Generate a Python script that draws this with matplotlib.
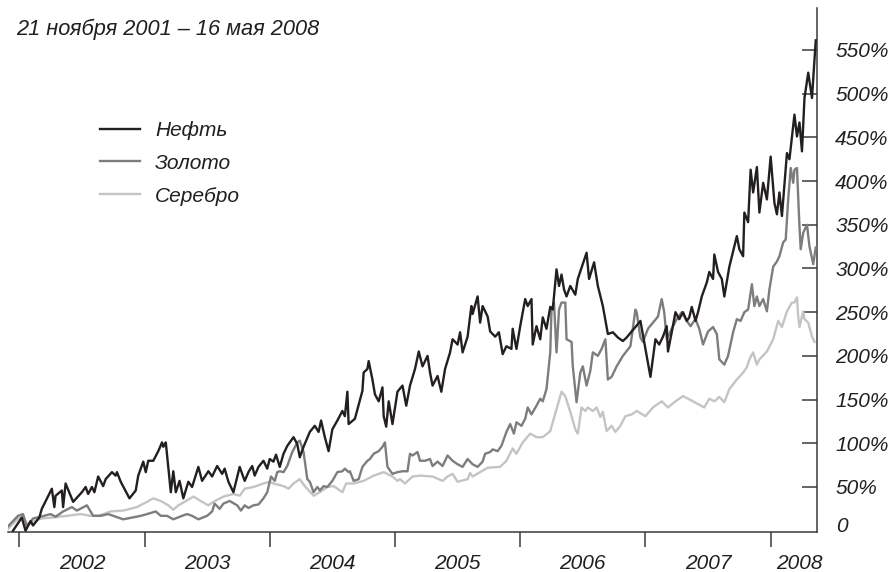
import matplotlib
matplotlib.use("Agg")
import matplotlib.pyplot as plt
import matplotlib.transforms as mtransforms

plt.rcParams["font.family"] = ["Liberation Sans", "DejaVu Sans"]
plt.rcParams["font.style"] = "italic"

# ==========================================
# DATA (decimal year, % change since 21.11.2001)
# ==========================================

oil_t = [2001.95, 2002.02, 2002.05, 2002.09, 2002.11, 2002.16, 2002.18, 2002.26, 2002.28, 2002.29,
         2002.34, 2002.35, 2002.37, 2002.43, 2002.50, 2002.53, 2002.55, 2002.58, 2002.60, 2002.63,
         2002.67, 2002.69, 2002.74, 2002.77, 2002.78, 2002.81, 2002.88, 2002.93, 2002.95, 2002.99,
         2003.01, 2003.03, 2003.07, 2003.11, 2003.14, 2003.15, 2003.17, 2003.21, 2003.23, 2003.25,
         2003.28, 2003.31, 2003.35, 2003.38, 2003.43, 2003.46, 2003.51, 2003.54, 2003.58, 2003.62,
         2003.64, 2003.67, 2003.71, 2003.76, 2003.80, 2003.83, 2003.86, 2003.88, 2003.91, 2003.95,
         2003.98, 2004.00, 2004.03, 2004.05, 2004.08, 2004.11, 2004.14, 2004.19, 2004.22, 2004.24,
         2004.27, 2004.32, 2004.36, 2004.39, 2004.41, 2004.44, 2004.47, 2004.50, 2004.54, 2004.58,
         2004.60, 2004.62, 2004.63, 2004.68, 2004.74, 2004.75, 2004.78, 2004.79, 2004.82, 2004.84,
         2004.87, 2004.90, 2004.91, 2004.93, 2004.95, 2004.98, 2005.02, 2005.06, 2005.09, 2005.12,
         2005.16, 2005.19, 2005.22, 2005.26, 2005.28, 2005.30, 2005.34, 2005.37, 2005.40, 2005.44,
         2005.46, 2005.50, 2005.52, 2005.54, 2005.58, 2005.61, 2005.62, 2005.66, 2005.68, 2005.70,
         2005.74, 2005.76, 2005.80, 2005.83, 2005.86, 2005.89, 2005.93, 2005.94, 2005.97, 2006.00,
         2006.04, 2006.06, 2006.09, 2006.10, 2006.13, 2006.16, 2006.18, 2006.21, 2006.24, 2006.26,
         2006.29, 2006.31, 2006.33, 2006.35, 2006.37, 2006.40, 2006.44, 2006.46, 2006.53, 2006.55,
         2006.59, 2006.62, 2006.66, 2006.70, 2006.74, 2006.78, 2006.82, 2006.85, 2006.89, 2006.92,
         2006.96, 2006.99, 2007.04, 2007.08, 2007.11, 2007.14, 2007.17, 2007.18, 2007.21, 2007.24,
         2007.27, 2007.30, 2007.33, 2007.35, 2007.37, 2007.40, 2007.42, 2007.45, 2007.49, 2007.51,
         2007.54, 2007.55, 2007.58, 2007.61, 2007.63, 2007.67, 2007.73, 2007.75, 2007.78, 2007.79,
         2007.82, 2007.84, 2007.86, 2007.89, 2007.91, 2007.94, 2007.97, 2008.00, 2008.03, 2008.05,
         2008.07, 2008.09, 2008.13, 2008.15, 2008.19, 2008.21, 2008.23, 2008.25, 2008.27, 2008.30,
         2008.33, 2008.36]
oil_v = [0, 15, 0, 11, 6, 15, 25, 48, 27, 40,
         46, 27, 54, 33, 44, 50, 42, 50, 44, 62,
         51, 59, 67, 63, 67, 56, 37, 46, 63, 79,
         67, 80, 80, 91, 101, 96, 101, 44, 68, 44,
         57, 37, 56, 50, 73, 57, 68, 62, 74, 65,
         71, 56, 44, 73, 57, 67, 74, 63, 73, 80,
         71, 82, 79, 87, 73, 88, 97, 107, 99, 84,
         96, 113, 120, 113, 126, 107, 91, 116, 126, 137,
         131, 159, 122, 128, 160, 181, 185, 194, 173, 156,
         148, 164, 131, 119, 148, 122, 159, 166, 143, 166,
         185, 205, 188, 200, 181, 166, 177, 159, 185, 204,
         219, 213, 227, 204, 222, 257, 248, 268, 238, 257,
         245, 228, 222, 227, 202, 211, 208, 231, 208, 234,
         265, 257, 265, 213, 234, 219, 244, 231, 256, 253,
         299, 280, 293, 276, 268, 280, 270, 288, 318, 288,
         307, 280, 257, 225, 227, 221, 217, 221, 228, 233,
         240, 216, 176, 219, 213, 222, 234, 205, 227, 250,
         242, 250, 240, 244, 256, 240, 250, 268, 284, 296,
         288, 316, 296, 288, 268, 302, 337, 322, 314, 364,
         353, 413, 387, 416, 364, 398, 379, 428, 375, 362,
         387, 360, 432, 425, 476, 451, 467, 434, 495, 524,
         495, 561]

gold_t = [2001.91, 2001.99, 2002.03, 2002.06, 2002.11, 2002.17, 2002.25, 2002.29, 2002.35, 2002.42,
          2002.46, 2002.50, 2002.54, 2002.59, 2002.65, 2002.71, 2002.77, 2002.83, 2002.90, 2002.97,
          2003.02, 2003.09, 2003.13, 2003.18, 2003.23, 2003.30, 2003.34, 2003.38, 2003.43, 2003.50,
          2003.54, 2003.56, 2003.60, 2003.63, 2003.68, 2003.74, 2003.77, 2003.80, 2003.83, 2003.87,
          2003.91, 2003.95, 2003.98, 2004.01, 2004.04, 2004.06, 2004.08, 2004.11, 2004.14, 2004.18,
          2004.22, 2004.24, 2004.27, 2004.30, 2004.32, 2004.35, 2004.38, 2004.40, 2004.43, 2004.46,
          2004.50, 2004.54, 2004.58, 2004.60, 2004.63, 2004.64, 2004.67, 2004.71, 2004.74, 2004.78,
          2004.80, 2004.83, 2004.87, 2004.90, 2004.92, 2004.94, 2004.98, 2005.02, 2005.06, 2005.10,
          2005.12, 2005.14, 2005.18, 2005.20, 2005.24, 2005.28, 2005.30, 2005.34, 2005.38, 2005.42,
          2005.46, 2005.50, 2005.54, 2005.58, 2005.62, 2005.66, 2005.70, 2005.72, 2005.76, 2005.78,
          2005.82, 2005.85, 2005.89, 2005.92, 2005.95, 2005.97, 2006.01, 2006.04, 2006.06, 2006.09,
          2006.13, 2006.16, 2006.18, 2006.21, 2006.24, 2006.25, 2006.27, 2006.29, 2006.31, 2006.33,
          2006.36, 2006.37, 2006.41, 2006.42, 2006.45, 2006.48, 2006.50, 2006.53, 2006.56, 2006.58,
          2006.62, 2006.65, 2006.68, 2006.70, 2006.73, 2006.77, 2006.82, 2006.88, 2006.92, 2006.93,
          2006.96, 2006.98, 2007.02, 2007.06, 2007.10, 2007.13, 2007.15, 2007.17, 2007.21, 2007.25,
          2007.29, 2007.33, 2007.36, 2007.40, 2007.43, 2007.46, 2007.50, 2007.54, 2007.57, 2007.59,
          2007.63, 2007.66, 2007.70, 2007.73, 2007.76, 2007.79, 2007.82, 2007.85, 2007.87, 2007.89,
          2007.91, 2007.94, 2007.97, 2007.99, 2008.02, 2008.05, 2008.07, 2008.10, 2008.12, 2008.14,
          2008.16, 2008.18, 2008.19, 2008.21, 2008.23, 2008.24, 2008.26, 2008.29, 2008.31, 2008.34,
          2008.36]
gold_v = [5, 17, 19, 5, 14, 16, 19, 16, 22, 27,
          23, 26, 29, 17, 17, 19, 16, 13, 15, 17,
          19, 22, 17, 17, 13, 17, 19, 17, 13, 17,
          22, 31, 25, 31, 34, 29, 23, 29, 26, 29,
          30, 37, 44, 62, 57, 67, 68, 67, 74, 90,
          101, 103, 90, 59, 56, 44, 50, 46, 51, 50,
          57, 67, 68, 71, 67, 68, 57, 59, 73, 80,
          82, 88, 91, 96, 101, 73, 65, 67, 68, 68,
          88, 86, 90, 80, 80, 82, 74, 79, 74, 86,
          80, 76, 73, 82, 76, 73, 79, 88, 90, 93,
          91, 97, 113, 122, 111, 124, 120, 128, 141, 133,
          143, 151, 148, 162, 204, 253, 261, 204, 253, 261,
          261, 219, 216, 188, 147, 181, 188, 166, 183, 204,
          200, 208, 219, 173, 176, 188, 200, 211, 253, 250,
          221, 216, 231, 238, 245, 265, 250, 219, 231, 242,
          250, 240, 234, 242, 231, 213, 228, 233, 225, 196,
          190, 200, 227, 242, 240, 250, 253, 282, 257, 268,
          257, 265, 251, 276, 302, 308, 314, 330, 333, 379,
          415, 398, 413, 415, 348, 322, 341, 350, 325, 305,
          324]

silver_t = [2001.91, 2001.99, 2002.03, 2002.07, 2002.11, 2002.18, 2002.26, 2002.38, 2002.49, 2002.57,
            2002.63, 2002.73, 2002.83, 2002.94, 2003.02, 2003.07, 2003.13, 2003.19, 2003.23, 2003.27,
            2003.32, 2003.39, 2003.46, 2003.51, 2003.55, 2003.63, 2003.71, 2003.76, 2003.80, 2003.87,
            2003.95, 2004.00, 2004.03, 2004.11, 2004.15, 2004.19, 2004.24, 2004.28, 2004.35, 2004.40,
            2004.46, 2004.51, 2004.58, 2004.61, 2004.67, 2004.75, 2004.83, 2004.91, 2004.98, 2005.02,
            2005.04, 2005.08, 2005.14, 2005.20, 2005.30, 2005.38, 2005.42, 2005.46, 2005.50, 2005.58,
            2005.60, 2005.62, 2005.68, 2005.74, 2005.84, 2005.89, 2005.94, 2005.97, 2006.02, 2006.08,
            2006.13, 2006.18, 2006.24, 2006.29, 2006.33, 2006.36, 2006.40, 2006.44, 2006.46, 2006.49,
            2006.52, 2006.54, 2006.58, 2006.61, 2006.64, 2006.66, 2006.69, 2006.73, 2006.76, 2006.80,
            2006.84, 2006.89, 2006.93, 2007.00, 2007.06, 2007.13, 2007.18, 2007.24, 2007.30, 2007.38,
            2007.47, 2007.51, 2007.55, 2007.59, 2007.63, 2007.67, 2007.73, 2007.75, 2007.78, 2007.81,
            2007.83, 2007.86, 2007.89, 2007.91, 2007.97, 2008.02, 2008.06, 2008.09, 2008.13, 2008.17,
            2008.19, 2008.21, 2008.22, 2008.23, 2008.26, 2008.27, 2008.30, 2008.33, 2008.35]
silver_v = [2, 14, 16, 6, 11, 14, 15, 17, 19, 17,
            17, 22, 23, 27, 33, 37, 34, 29, 24, 29,
            33, 39, 33, 29, 33, 39, 42, 40, 48, 50,
            54, 56, 54, 51, 48, 54, 59, 51, 40, 44,
            50, 51, 44, 54, 54, 57, 63, 67, 62, 57,
            59, 54, 62, 63, 62, 57, 62, 65, 56, 59,
            66, 62, 67, 72, 73, 80, 94, 88, 101, 111,
            107, 107, 114, 139, 159, 154, 136, 116, 111, 141,
            137, 141, 137, 141, 130, 136, 114, 120, 113, 120,
            131, 133, 137, 131, 141, 148, 141, 148, 154, 148,
            141, 151, 148, 153, 147, 162, 173, 176, 181, 187,
            196, 204, 190, 196, 205, 219, 240, 233, 251, 261,
            261, 267, 245, 233, 251, 242, 238, 222, 216]

series_names = ["Нефть", "Золото", "Серебро"]
years = [2002, 2003, 2004, 2005, 2006, 2007, 2008]
year_label_pos = [2002.5, 2003.5, 2004.5, 2005.5, 2006.5, 2007.5, 2008.23]
pct_ticks = [50, 100, 150, 200, 250, 300, 350, 400, 450, 500, 550]
title = "21 ноября 2001 – 16 мая 2008"

# ==========================================
# PLOT
# ==========================================

ink = "#231f20"
axis_col = "#3a3a3a"

fig = plt.figure(figsize=(8.94, 5.72), dpi=100)
ax = fig.add_axes([8 / 894, 40 / 572, 809 / 894, 524 / 572])

ax.plot(silver_t, silver_v, color="#c4c4c4", linewidth=1.7, label=series_names[2], zorder=2)
ax.plot(gold_t, gold_v, color="#7d7d7d", linewidth=1.7, label=series_names[1], zorder=3)
ax.plot(oil_t, oil_v, color=ink, linewidth=1.7, label=series_names[0], zorder=4)

ax.set_xlim(2001.91, 2008.37)
ax.set_ylim(-1.5, 598)

for side in ["top", "left"]:
    ax.spines[side].set_visible(False)
for side in ["bottom", "right"]:
    ax.spines[side].set_color(axis_col)
    ax.spines[side].set_linewidth(1.1)

# x axis: year ticks, labels centred between them
ax.set_xticks(years)
ax.set_xticklabels([])
ax.set_xticks(year_label_pos, minor=True)
ax.set_xticklabels([str(y) for y in years], minor=True)
ax.tick_params(axis="x", which="major", direction="out", length=11, width=1.1, color=axis_col)
ax.tick_params(axis="x", which="minor", length=0, pad=16, labelsize=15, labelcolor=ink)

# y axis on the right
ax.yaxis.tick_right()
ax.set_yticks(pct_ticks)
ax.set_yticklabels([f"{v}%" for v in pct_ticks])
ax.tick_params(axis="y", direction="in", length=11, width=1.1, color=axis_col,
               pad=13, labelsize=15, labelcolor=ink)
for lab in ax.get_yticklabels():
    lab.set_horizontalalignment("left")

trans = mtransforms.blended_transform_factory(ax.transAxes, ax.transData)
ax.annotate("0", xy=(1, 0), xycoords=trans, xytext=(14, 3), textcoords="offset points",
            ha="left", va="center", fontsize=15, color=ink)

fig.text(16 / 894, 1 - 29 / 572, title, fontsize=15.7, color=ink, ha="left", va="center")

handles, labels = ax.get_legend_handles_labels()
order = [2, 1, 0]
leg = ax.legend([handles[i] for i in order], [labels[i] for i in order],
                loc="upper left", bbox_to_anchor=(100 / 894, 1 - 121 / 572),
                bbox_transform=fig.transFigure, frameon=False, fontsize=15,
                handlelength=1.9, handletextpad=0.75, labelspacing=0.66,
                borderpad=0, borderaxespad=0)
for t in leg.get_texts():
    t.set_color(ink)

fig.savefig("out.png", dpi=100)
